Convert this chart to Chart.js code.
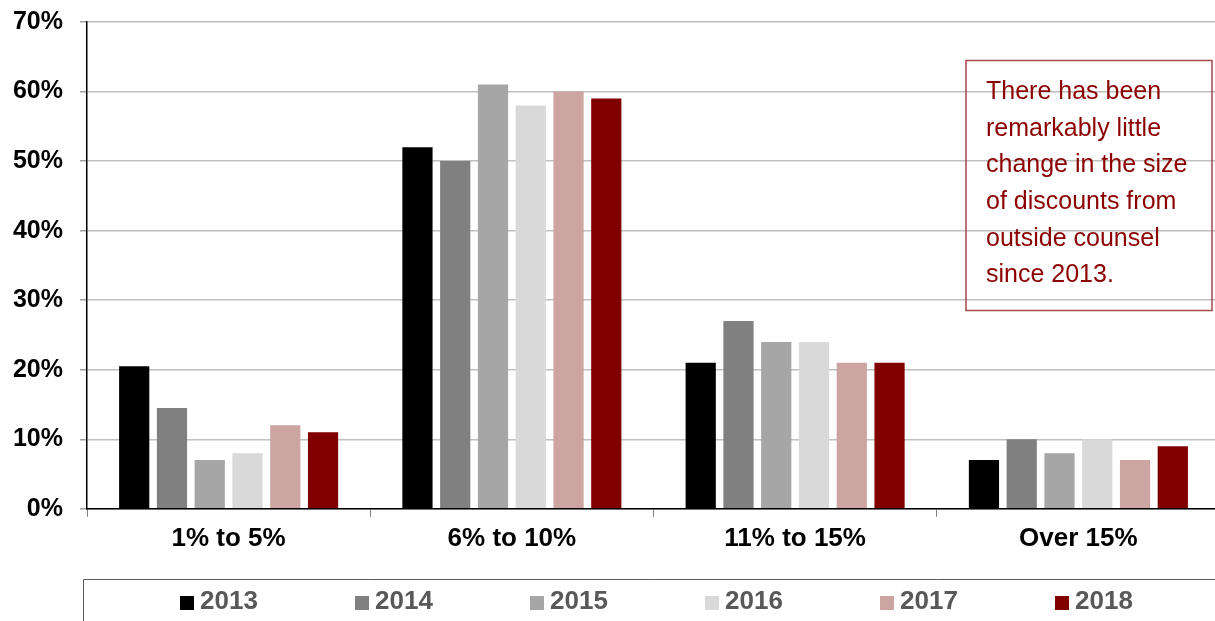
<!DOCTYPE html>
<html>
<head>
<meta charset="utf-8">
<script src="https://cdn.jsdelivr.net/npm/chart.js@4"></script>
<style>
  html, body { margin: 0; padding: 0; background: #fff; overflow: hidden; }
  #caja { position: relative; width: 1222px; height: 621px; }
</style>
</head>
<body>
<div id="caja"><canvas id="grafico"></canvas></div>
<script>
const categorias = ['1% to 5%', '6% to 10%', '11% to 15%', 'Over 15%'];
const anios = ['2013', '2014', '2015', '2016', '2017', '2018'];
const v2013 = [20.5, 52, 21, 7];
const v2014 = [14.5, 50, 27, 10];
const v2015 = [7, 61, 24, 8];
const v2016 = [8, 58, 24, 10];
const v2017 = [12, 60, 21, 7];
const v2018 = [11, 59, 21, 9];
const colores = ['#000000', '#808080', '#a6a6a6', '#d9d9d9', '#cca4a1', '#800000'];
const nota = [
  'There has been',
  'remarkably little',
  'change in the size',
  'of discounts from',
  'outside counsel',
  'since 2013.'
];

const fuente = '"Liberation Sans", Arial, sans-serif';
const series = [v2013, v2014, v2015, v2016, v2017, v2018];

// leyenda con recuadro y la nota de texto
const extras = {
  id: 'extras',
  afterDraw(chart) {
    const ctx = chart.ctx;
    ctx.save();

    // recuadro de la leyenda
    ctx.strokeStyle = '#595959';
    ctx.lineWidth = 1;
    ctx.beginPath();
    ctx.moveTo(83.5, 621);
    ctx.lineTo(83.5, 579.5);
    ctx.lineTo(chart.width, 579.5);
    ctx.stroke();

    ctx.font = 'bold 26px ' + fuente;
    ctx.textBaseline = 'middle';
    ctx.textAlign = 'left';
    const paso = 175;
    let x = 180;
    chart.data.datasets.forEach((ds, i) => {
      ctx.fillStyle = ds.backgroundColor;
      ctx.fillRect(x, 596, 14, 14);
      ctx.fillStyle = '#595959';
      ctx.fillText(ds.label, x + 20, 602);
      x += paso;
    });

    // nota
    ctx.strokeStyle = '#a34848';
    ctx.lineWidth = 1.5;
    ctx.strokeRect(966, 60.5, 246, 250);
    ctx.fillStyle = '#8b0000';
    ctx.font = '25px ' + fuente;
    nota.forEach((linea, i) => {
      ctx.fillText(linea, 986, 92 + i * 36.7);
    });

    ctx.restore();
  }
};

new Chart(document.getElementById('grafico'), {
  type: 'bar',
  data: {
    labels: categorias,
    datasets: anios.map((a, i) => ({
      label: a,
      data: series[i],
      backgroundColor: colores[i],
      categoryPercentage: 0.8,
      barPercentage: 0.8
    }))
  },
  options: {
    responsive: true,
    maintainAspectRatio: false,
    animation: false,
    layout: { padding: { left: 0, top: 22, right: 2, bottom: 61 } },
    plugins: {
      legend: { display: false },
      tooltip: { enabled: false }
    },
    scales: {
      x: {
        grid: {
          offset: true,
          drawOnChartArea: false,
          drawTicks: true,
          tickLength: 8,
          tickColor: '#808080'
        },
        border: { color: '#000', width: 1.5 },
        ticks: {
          color: '#000',
          padding: 6,
          font: { family: fuente, size: 26, weight: 'bold' }
        }
      },
      y: {
        min: 0,
        max: 70,
        afterFit: escala => {
          escala.width = 87;
          escala.paddingTop = 0;
          escala.paddingBottom = 0;
        },
        grid: {
          color: '#bfbfbf',
          lineWidth: 1.5,
          tickLength: 7,
          tickColor: '#a0a0a0'
        },
        border: { color: '#000', width: 1.5 },
        ticks: {
          stepSize: 10,
          color: '#000',
          padding: 17,
          font: { family: fuente, size: 25, weight: 'bold' },
          callback: v => v + '%'
        }
      }
    }
  },
  plugins: [extras]
});
</script>
</body>
</html>
